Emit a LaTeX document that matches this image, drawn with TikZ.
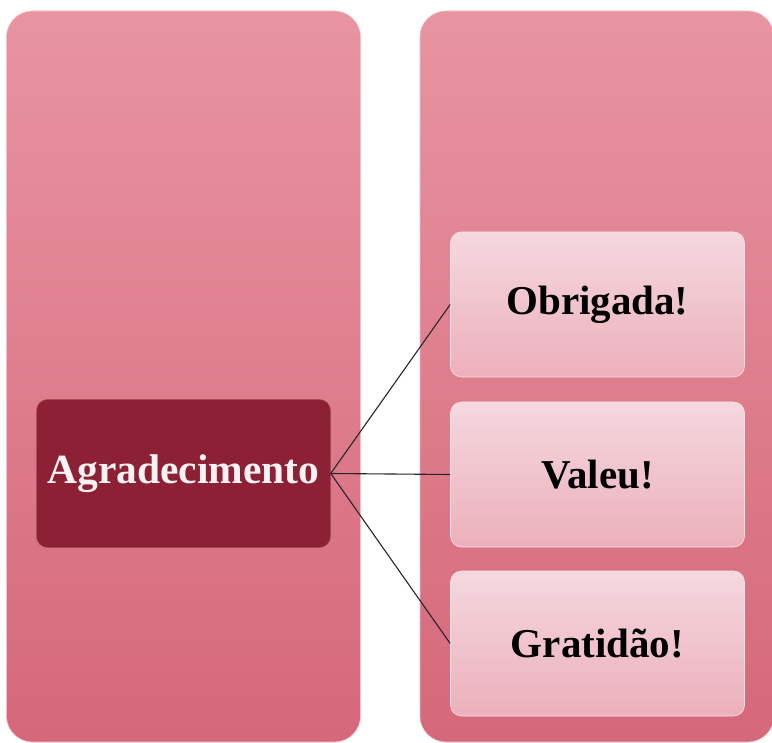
\documentclass[tikz,border=0pt]{standalone}
\usepackage{fontspec}
\setmainfont{Liberation Serif}
\definecolor{paneltop}{RGB}{232,148,161}
\definecolor{panelbot}{RGB}{213,104,122}
\definecolor{boxtop}{RGB}{245,216,222}
\definecolor{boxbot}{RGB}{236,176,188}
\definecolor{darkred}{RGB}{140,32,52}
\definecolor{whitetext}{RGB}{250,242,242}
\begin{document}
\begin{tikzpicture}[x=1pt,y=-1pt,
  panel/.style={top color=paneltop,bottom color=panelbot,draw=paneltop!60!white,line width=0.6pt,rounded corners=26pt,minimum width=354pt,minimum height=731pt,inner sep=0pt},
  itembox/.style={top color=boxtop,bottom color=boxbot,draw=boxtop!70!white,line width=0.6pt,rounded corners=11pt,minimum width=294pt,minimum height=145pt,inner sep=0pt,font=\fontsize{41}{46}\selectfont\bfseries,text=black},
  mainbox/.style={fill=darkred,draw=darkred!80!white,line width=0.5pt,rounded corners=11pt,minimum width=294pt,minimum height=148pt,inner sep=0pt,font=\fontsize{41.5}{46}\selectfont\bfseries,text=whitetext},
  link/.style={draw=black!85,line width=1.1pt}]
\useasboundingbox (0,0) rectangle (772,743);
\node[panel] (lp) at (183.5,376.5) {};
\node[panel] (rp) at (597,376.5) {};
\node[mainbox] (a) at (183.5,473.5) {Agradecimento};
\node[itembox] (o) at (597.5,304.5) {Obrigada!};
\node[itembox] (v) at (597.5,474.5) {Valeu!};
\node[itembox] (g) at (597.5,643.5) {Gratidão!};
\draw[link] (a.east) -- (o.west);
\draw[link] (a.east) -- (v.west);
\draw[link] (a.east) -- (g.west);
\end{tikzpicture}
\end{document}
